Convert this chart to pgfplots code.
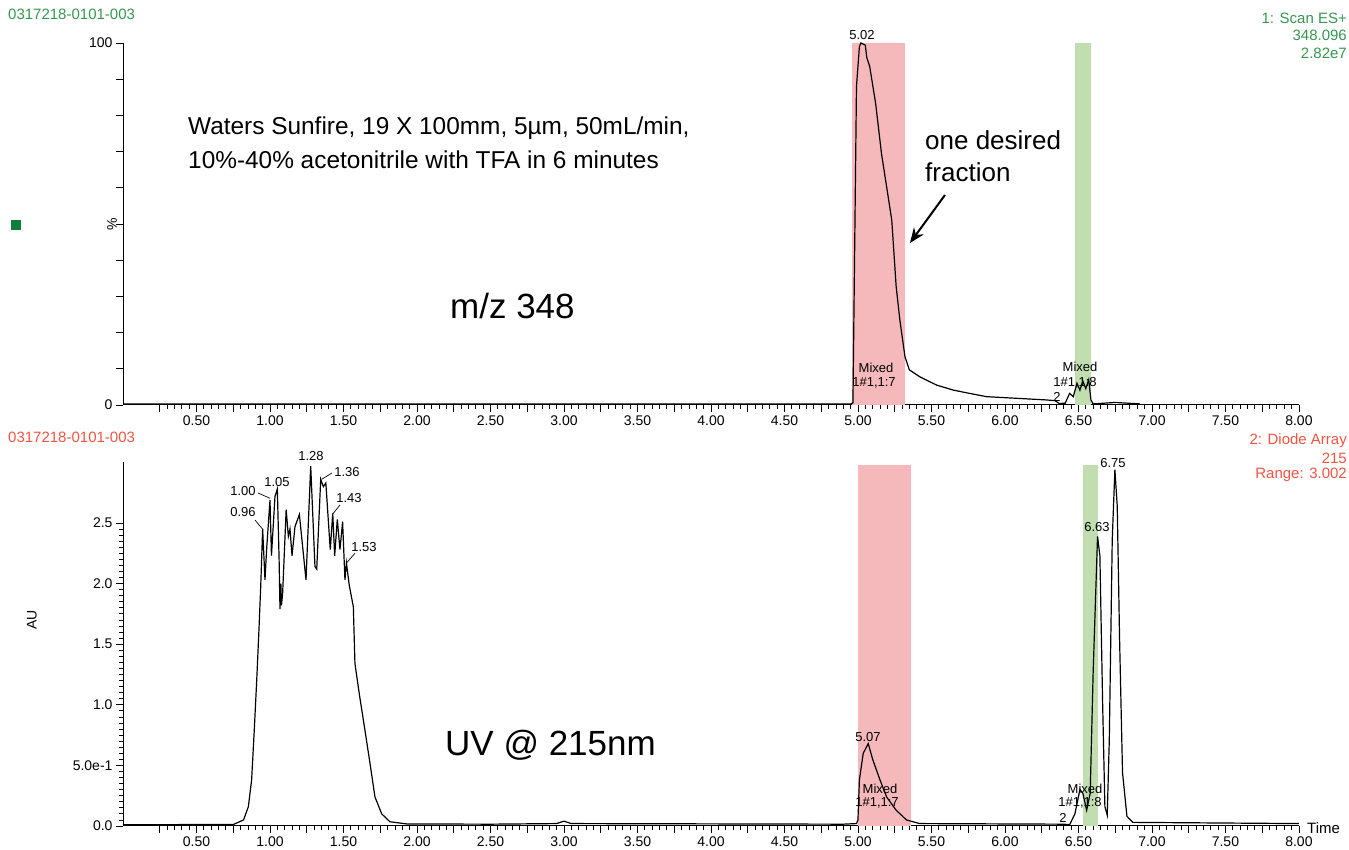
\documentclass[border=0pt]{standalone}
\usepackage{fontspec}
\setmainfont{Liberation Sans}
\usepackage{pgfplots}
\pgfplotsset{compat=1.18}
\usetikzlibrary{arrows.meta}
\definecolor{bandred}{RGB}{245,185,188}
\definecolor{bandgreen}{RGB}{192,222,176}
\definecolor{hdrgreen}{RGB}{55,150,80}
\definecolor{hdrred}{RGB}{240,85,65}
\definecolor{sqgreen}{RGB}{15,125,60}
\pgfplotsset{chromo/.style={
  scale only axis, width=1176pt, xmin=0, xmax=8,
  axis x line=bottom, axis y line=left,
  axis line style={-, line width=1pt},
  tick align=outside, major tick length=7pt, minor tick length=4pt,
  every tick/.style={black, line width=0.8pt},
  xtick={0.25,0.5,...,8},
  xticklabels={{},0.50,{},1.00,{},1.50,{},2.00,{},2.50,{},3.00,{},3.50,{},4.00,{},4.50,{},5.00,{},5.50,{},6.00,{},6.50,{},7.00,{},7.50,{},8.00},
  minor x tick num=4,
  tick label style={font=\fontsize{14}{16}\selectfont},
  clip=false}}
\newcommand{\pk}{\fontsize{13}{14}\selectfont}
\newcommand{\hd}{\fontsize{15}{17}\selectfont}
\begin{document}
\begin{tikzpicture}[x=1pt,y=1pt]
\useasboundingbox (0pt,0pt) rectangle (1349pt,850pt);
% ---------- top: m/z 348 ----------
\begin{axis}[chromo, at={(123pt,445pt)}, anchor=south west, height=362pt,
  ymin=0, ymax=100, ytick={0,10,...,100},
  yticklabels={0,{},{},{},{},{},{},{},{},{},100}]
\addplot[fill=bandred, draw=none] coordinates {(4.96,0) (5.32,0) (5.32,100) (4.96,100)} -- cycle;
\addplot[fill=bandgreen, draw=none] coordinates {(6.48,0) (6.585,0) (6.585,100) (6.48,100)} -- cycle;
\addplot[black, line width=1.2pt] coordinates {
(0,0.3) (4.95,0.3) (4.966,0.6) (4.99,88) (5.01,99) (5.02,100) (5.05,99.4) (5.06,96)
(5.08,93.5) (5.12,83.4) (5.16,69.5) (5.195,60.3) (5.23,51.1) (5.26,32.7) (5.285,23.5)
(5.32,13.3) (5.35,9.7) (5.42,7.8) (5.535,5.5) (5.65,4.1) (5.76,3.2) (5.875,2.3)
(6.10,1.8) (6.28,1.4) (6.34,1.2) (6.37,0.4) (6.41,0.5) (6.44,3.2) (6.465,2.3)
(6.49,6) (6.51,4.1) (6.53,6.6) (6.55,4.5) (6.57,7) (6.585,1.4) (6.6,0.3) (6.75,0.7) (6.92,0.3)};
\draw[-{Stealth[length=15pt,width=12pt]}, line width=2pt] (axis cs:5.592,58) -- (axis cs:5.354,44.75);
\end{axis}
% ---------- bottom: UV 215 ----------
\begin{axis}[chromo, at={(123pt,24pt)}, anchor=south west, height=363.6pt,
  ymin=0, ymax=3.0, ytick={0,0.5,...,2.5},
  yticklabels={0.0,5.0e-1,1.0,1.5,2.0,2.5}, minor y tick num=9]
\addplot[fill=bandred, draw=none] coordinates {(5.0,0) (5.36,0) (5.36,2.98) (5.0,2.98)} -- cycle;
\addplot[fill=bandgreen, draw=none] coordinates {(6.53,0) (6.63,0) (6.63,2.98) (6.53,2.98)} -- cycle;
\addplot[black, line width=1.2pt] coordinates {
(0,0.01) (0.5,0.012) (0.75,0.012) (0.82,0.05) (0.853,0.16) (0.875,0.38) (0.893,0.79)
(0.91,1.21) (0.925,1.62) (0.937,1.98) (0.95,2.45) (0.966,2.03) (0.977,2.28) (1.00,2.69)
(1.01,2.23) (1.034,2.72) (1.05,2.78) (1.062,2.2) (1.068,1.79) (1.074,2.0) (1.078,1.82) (1.086,1.92)
(1.11,2.61) (1.125,2.39) (1.136,2.45) (1.15,2.23) (1.17,2.47) (1.20,2.57) (1.245,2.03)
(1.277,2.97) (1.306,2.14) (1.318,2.12) (1.345,2.86) (1.363,2.80) (1.38,2.83) (1.41,2.28)
(1.427,2.58) (1.44,2.23) (1.458,2.53) (1.476,2.28) (1.494,2.51) (1.51,2.03) (1.52,2.17)
(1.54,1.98) (1.567,1.81) (1.578,1.34) (1.61,1.07) (1.646,0.79) (1.68,0.52) (1.714,0.24)
(1.76,0.10) (1.816,0.035) (1.93,0.017) (2.5,0.015) (2.95,0.02) (3.0,0.04) (3.05,0.02)
(4.9,0.015) (4.99,0.02) (5.0,0.05) (5.01,0.38) (5.036,0.60) (5.07,0.68) (5.10,0.55)
(5.15,0.38) (5.195,0.24) (5.26,0.13) (5.33,0.05) (5.42,0.02) (6.40,0.015) (6.44,0.01)
(6.476,0.10) (6.51,0.30) (6.53,0.27) (6.556,0.13) (6.58,0.27) (6.60,1.26) (6.63,2.39)
(6.646,2.23) (6.665,0.99) (6.68,0.16) (6.696,0.09) (6.71,0.71) (6.73,2.36) (6.748,2.94)
(6.764,2.64) (6.78,1.54) (6.80,0.44) (6.83,0.08) (6.87,0.03) (8.0,0.02)};
\end{axis}
% ---------- headers ----------
\node[anchor=west, text=hdrgreen, font=\hd, inner sep=0] at (8pt,836pt) {0317218-0101-003};
\node[anchor=east, text=hdrgreen, font=\hd, inner sep=0] at (1347pt,832pt) {1: Scan ES+};
\node[anchor=east, text=hdrgreen, font=\hd, inner sep=0] at (1347pt,815pt) {348.096};
\node[anchor=east, text=hdrgreen, font=\hd, inner sep=0] at (1347pt,797pt) {2.82e7};
\node[anchor=west, text=hdrred, font=\hd, inner sep=0] at (8pt,413pt) {0317218-0101-003};
\node[anchor=east, text=hdrred, font=\hd, inner sep=0] at (1347pt,409pt) {2: Diode Array};
\node[anchor=east, text=hdrred, font=\hd, inner sep=0] at (1347pt,392pt) {215};
\node[anchor=east, text=hdrred, font=\hd, inner sep=0] at (1347pt,375pt) {Range: 3.002};
\fill[sqgreen] (11pt,620pt) rectangle (21pt,630pt);
\node[rotate=90, font=\fontsize{14}{16}\selectfont, inner sep=0] at (112pt,626pt) {\%};
\node[rotate=90, font=\fontsize{14}{16}\selectfont, inner sep=0] at (32pt,230pt) {AU};
\node[anchor=west, font=\fontsize{15}{17}\selectfont, inner sep=0] at (1307pt,22pt) {Time};
% ---------- annotations ----------
\node[anchor=west, font=\fontsize{24.4}{28}\selectfont, inner sep=0] at (188pt,722pt) {Waters Sunfire, 19 X 100mm, 5µm, 50mL/min,};
\node[anchor=west, font=\fontsize{24.4}{28}\selectfont, inner sep=0] at (188pt,690pt) {10\%-40\% acetonitrile with TFA in 6 minutes};
\node[anchor=west, font=\fontsize{35}{40}\selectfont, inner sep=0] at (450pt,544pt) {m/z 348};
\node[anchor=west, font=\fontsize{26}{30}\selectfont, inner sep=0] at (925pt,710pt) {one desired};
\node[anchor=west, font=\fontsize{26}{30}\selectfont, inner sep=0] at (925pt,678pt) {fraction};
\node[anchor=west, font=\fontsize{35}{40}\selectfont, inner sep=0] at (445pt,105pt) {UV @ 215nm};
% ---------- peak labels ----------
\node[font=\pk, inner sep=0] at (862pt,815pt) {5.02};
\node[font=\pk, inner sep=0] at (876pt,482pt) {Mixed};
\node[font=\pk, inner sep=0] at (874pt,467pt) {1\#1,1:7};
\node[font=\pk, inner sep=0] at (1080pt,483pt) {Mixed};
\node[font=\pk, inner sep=0] at (1075pt,467pt) {1\#1,1:8};
\node[font=\pk, inner sep=0] at (1057pt,453pt) {2};
\node[font=\pk, inner sep=0] at (868pt,113pt) {5.07};
\node[font=\pk, inner sep=0] at (880pt,61pt) {Mixed};
\node[font=\pk, inner sep=0] at (877pt,47pt) {1\#1,1:7};
\node[font=\pk, inner sep=0] at (1085pt,61pt) {Mixed};
\node[font=\pk, inner sep=0] at (1080pt,47pt) {1\#1,1:8};
\node[font=\pk, inner sep=0] at (1063pt,32pt) {2};
\node[font=\pk, inner sep=0] at (1097pt,323pt) {6.63};
\node[font=\pk, inner sep=0] at (1113pt,387pt) {6.75};
\node[font=\pk, inner sep=0] at (243pt,338pt) {0.96};
\node[font=\pk, inner sep=0] at (243pt,359pt) {1.00};
\node[font=\pk, inner sep=0] at (277pt,368pt) {1.05};
\node[font=\pk, inner sep=0] at (311pt,394pt) {1.28};
\node[font=\pk, inner sep=0] at (347pt,378pt) {1.36};
\node[font=\pk, inner sep=0] at (349pt,352pt) {1.43};
\node[font=\pk, inner sep=0] at (364pt,303pt) {1.53};
\draw[line width=0.7pt] (255pt,330pt) -- (262.7pt,320.7pt);
\draw[line width=0.7pt] (258pt,357pt) -- (270pt,351.7pt);
\draw[line width=0.7pt] (332pt,377pt) -- (321.7pt,370.7pt);
\draw[line width=0.7pt] (340pt,345pt) -- (332.7pt,336pt);
\draw[line width=0.7pt] (355pt,296.7pt) -- (346.7pt,287.3pt);
\end{tikzpicture}
\end{document}
